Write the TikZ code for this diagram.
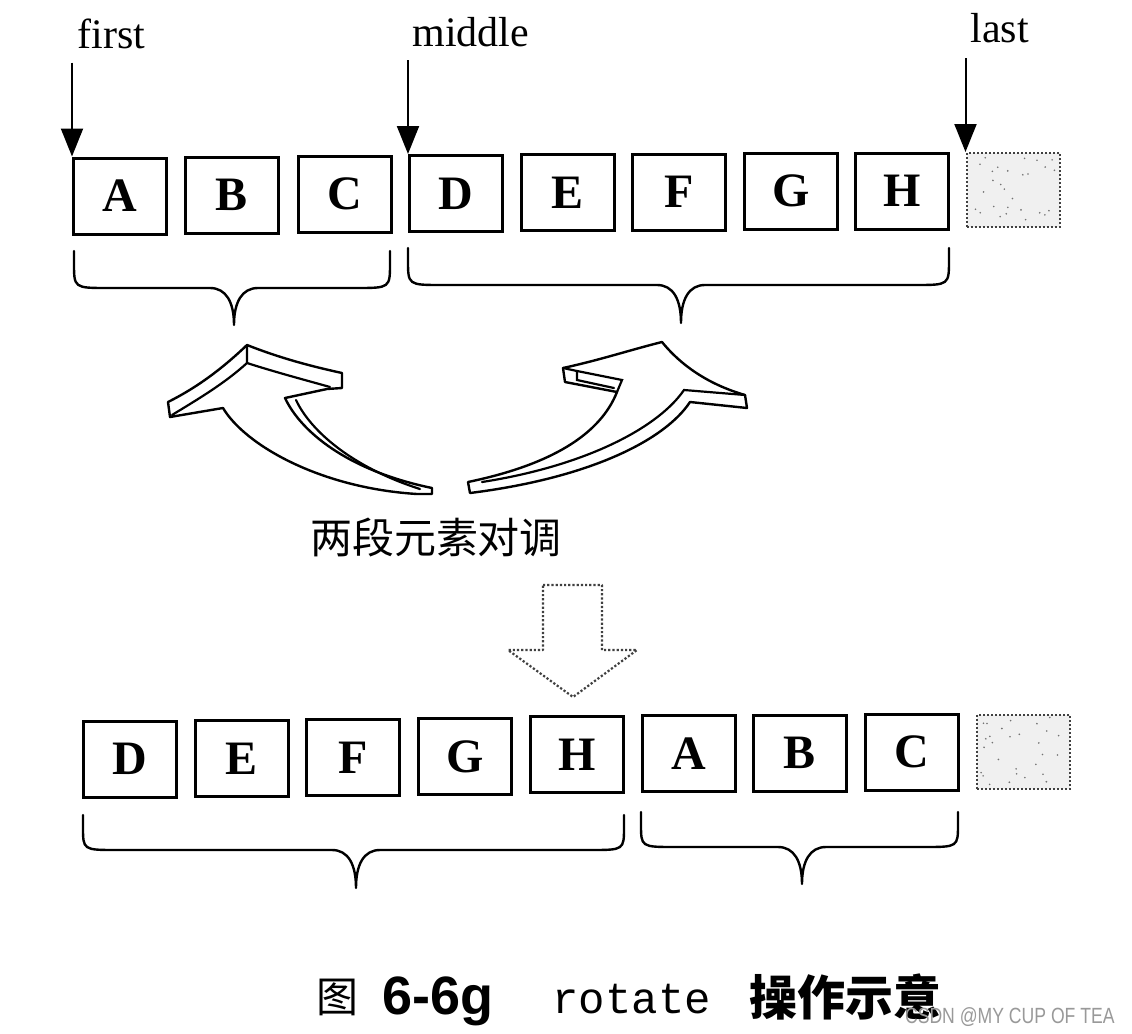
\documentclass[tikz,border=0pt]{standalone}
\usepackage{fontspec}
\setmainfont{Liberation Serif}
\newfontfamily\cjk{Noto Sans CJK SC}
\newfontfamily\sansf{Liberation Sans}
\newfontfamily\monof{Liberation Mono}
\usetikzlibrary{arrows.meta,calc}
\newcommand\mybrace[6]{% x1 x2 ytop yh xm ytip
  \draw[brc] (#1,#3) -- (#1,#3+12) .. controls (#1,#4) .. (#1+34,#4) -- (#5-24,#4)
    .. controls (#5-8,#4) and (#5,#4+14) .. (#5,#6)
    .. controls (#5,#4+14) and (#5+8,#4) .. (#5+24,#4) -- (#2-34,#4)
    .. controls (#2,#4) .. (#2,#3+12) -- (#2,#3);}
\newcommand\speckle[1]{% node name
  \foreach \i in {1,...,28}{
    \pgfmathsetmacro\sx{rnd*0.9+0.05}
    \pgfmathsetmacro\sy{rnd*0.9+0.05}
    \fill[black!55] ($(#1.south west)!\sx!(#1.south east)!\sy!($(#1.north west)!\sx!(#1.north east)$)$) circle (0.45pt);
  }}
\begin{document}
\begin{tikzpicture}[x=0.5pt,y=-0.5pt,
  cell/.style={draw, line width=1.5pt, minimum width=46.5pt, minimum height=38pt,
    inner sep=0pt, font=\bfseries\fontsize{24}{24}\selectfont},
  emptycell/.style={draw=black!75, densely dotted, line width=1pt, fill=black!6,
    minimum width=46.5pt, minimum height=37pt, inner sep=0pt},
  ptr/.style={line width=1pt, -{Triangle[width=11pt,length=14pt]}},
  lbl/.style={font=\fontsize{21}{21}\selectfont, inner sep=0pt},
  brc/.style={line width=1.2pt, line join=round, line cap=round},
  arr/.style={line width=1.2pt, line join=round, fill=white},
  arrl/.style={line width=1.1pt, line cap=round}]
\useasboundingbox (0,0) rectangle (1132,1034);
\fill[white] (0,0) rectangle (1132,1034);
\pgfmathsetseed{7}

% top row
\node[cell] (t1) at (120,196) {A};
\node[cell] (t2) at (232,195) {B};
\node[cell] (t3) at (345,194) {C};
\node[cell] (t4) at (456,193.5) {D};
\node[cell] (t5) at (568,192.5) {E};
\node[cell] (t6) at (679,192) {F};
\node[cell] (t7) at (791,191) {G};
\node[cell] (t8) at (902,191) {H};
\node[emptycell] (t9) at (1013,190) {};
\speckle{t9}

% pointer labels
\node[lbl, anchor=base west] (lfirst) at (77,48) {first};
\node[lbl, anchor=base west] (lmiddle) at (412,46) {middle};
\node[lbl, anchor=base west] (llast) at (970,42) {last};
\coordinate (pf) at ($(t1.north west)+(0,-94)$);
\coordinate (pm) at ($(t4.north west)+(0,-94)$);
\coordinate (pl) at ($(t9.north west)+(0,-94)$);
\draw[ptr] (pf) -- (t1.north west);
\draw[ptr] (pm) -- (t4.north west);
\draw[ptr] (pl) -- (t9.north west);

% top braces
\mybrace{74}{390}{251}{288}{234}{325}
\mybrace{408}{949}{248}{285}{681}{323}

% left curved arrow
\draw[arr] (170,417) -- (168,402) .. controls (200,386) and (225,366) .. (247,345)
  .. controls (280,358) and (310,366) .. (342,373) -- (342,388) -- (327,389) -- (285,398)
  .. controls (300,430) and (345,470) .. (432,488) -- (432,494) -- (417,494)
  .. controls (320,488) and (245,445) .. (223,408) -- cycle;
\draw[arrl] (247,345) -- (247,363) .. controls (225,383) and (200,398) .. (172,415);
\draw[arrl] (247,363) .. controls (275,372) and (305,380) .. (330,387);
\draw[arrl] (296,400) .. controls (311,432) and (354,468) .. (420,489);

% right curved arrow
\draw[arr] (662,342) .. controls (675,358) and (700,382) .. (745,395) -- (747,408) -- (690,402)
  .. controls (665,440) and (590,478) .. (470,493) -- (468,482)
  .. controls (550,465) and (600,435) .. (617,392) -- (565,382) -- (563,368)
  .. controls (600,360) and (630,350) .. (662,342) -- cycle;
\draw[arrl] (745,395) -- (684,390) .. controls (658,428) and (585,466) .. (482,482);
\draw[arrl] (563,368) -- (577,371) -- (622,380) -- (617,392);
\draw[arrl] (577,371) -- (577,380) -- (614,388);

% swap label
\node[font=\cjk\fontsize{21}{21}\selectfont, inner sep=0pt] (swap) at (436,537) {两段元素对调};

% dotted down arrow
\draw[black!75, densely dotted, line width=1.1pt, line join=round]
  (543,585) -- (602,585) -- (602,650) -- (637,650) -- (573,697) -- (508,650) -- (543,650) -- cycle;

% bottom row
\node[cell] (b1) at (130,759) {D};
\node[cell] (b2) at (241.5,758.5) {E};
\node[cell] (b3) at (353,757.5) {F};
\node[cell] (b4) at (465,756.5) {G};
\node[cell] (b5) at (577,754.5) {H};
\node[cell] (b6) at (688.5,753.5) {A};
\node[cell] (b7) at (800,753) {B};
\node[cell] (b8) at (912,752) {C};
\node[emptycell] (b9) at (1023.5,751.5) {};
\speckle{b9}

% bottom braces
\mybrace{83}{624}{815}{850}{356}{888}
\mybrace{641}{958}{812}{847}{802}{884}

% caption
\node[font=\cjk\fontsize{21}{21}\selectfont, inner sep=0pt] (capfig) at (337,997) {图};
\node[font=\sansf\bfseries\fontsize{27}{27}\selectfont, inner sep=0pt, anchor=base] (capnum) at (438,1014) {6-6g};
\node[font=\monof\fontsize{22}{22}\selectfont, inner sep=0pt, anchor=base west] (caprot) at (552,1013) {rotate};
\node[font=\cjk\bfseries\fontsize{24}{24}\selectfont, inner sep=0pt] (capop) at (845,997) {操作示意};
\node[font=\sansf\fontsize{11}{11}\selectfont, text=black!40, inner sep=0pt, anchor=east] (wm) at (1115,1017) {\scalebox{0.8}[1]{CSDN @MY CUP OF TEA}};
\end{tikzpicture}
\end{document}
